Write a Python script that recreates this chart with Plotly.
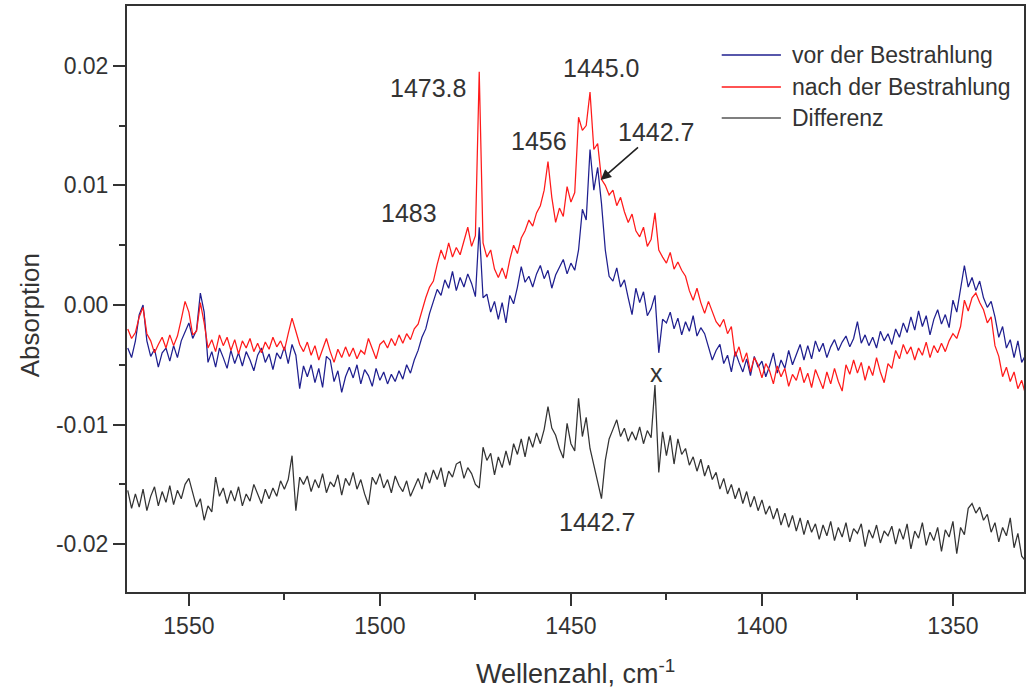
import plotly.graph_objects as go

# Wavenumber grid (cm^-1), 1 cm^-1 sampling, 1566 -> 1331
wavenumber = list(range(1566, 1330, -1))

# Absorbance values in units of 1e-3
vor_mabs = [
    -3.6, -4.4, -3.0, -0.8, 0.0, -3.0, -4.3, -3.7, -5.2, -4.0,
    -3.6, -4.7, -3.4, -4.4, -3.0, -2.2, -1.5, -2.8, -2.1, 1.0,
    -0.6, -4.8, -3.9, -5.2, -3.6, -4.4, -5.3, -3.8, -4.9, -4.0,
    -5.1, -3.9, -4.6, -5.5, -4.2, -3.6, -4.8, -4.1, -5.4, -4.0,
    -4.5, -3.5, -4.9, -3.3, -4.2, -7.0, -5.1, -6.0, -5.0, -6.5,
    -5.3, -6.9, -4.3, -4.6, -6.4, -5.5, -7.3, -6.0, -5.2, -6.1,
    -5.0, -6.6, -5.4, -5.9, -6.8, -5.3, -6.3, -5.6, -6.6, -5.8,
    -6.4, -5.5, -6.2, -5.0, -5.7, -4.6, -3.8, -2.7, -2.0, -0.7,
    0.3, 1.3, 0.8, 2.1, 1.4, 2.8, 1.2, 2.3, 1.5, 2.6,
    1.8, 0.7, 6.5, 0.6, 0.9, -0.6, 0.3, -1.2, 0.2, -1.5,
    0.8, 0.1, 1.5, 3.2, 1.9, 2.4, 1.5, 2.6, 3.3, 2.2,
    2.9, 1.4, 2.5, 3.1, 3.8, 2.6, 3.5, 2.9, 4.6, 8.0,
    7.1, 13.0, 9.6, 11.5, 8.5, 4.6, 2.4, 2.0, 3.1, 1.5,
    2.1, 0.6, -0.8, 1.4, 0.2, 1.1, -0.9, -0.3, 0.8, -4.0,
    -1.2, -1.5, -0.6, -2.0, -1.1, -2.5, -1.4, -2.2, -0.9, -2.6,
    -1.9, -2.4, -3.4, -4.6, -3.8, -3.3, -4.9, -4.2, -5.6, -3.9,
    -4.8, -5.6, -4.5, -5.9, -4.3, -5.2, -4.7, -6.0, -5.1, -4.0,
    -5.7, -4.6, -5.3, -3.8, -5.0, -4.2, -3.3, -4.6, -3.4, -4.5,
    -3.0, -3.9, -3.2, -4.4, -3.5, -2.9, -3.8, -3.1, -2.6, -3.5,
    -2.8, -1.4, -3.2, -2.5, -3.4, -2.7, -3.6, -2.2, -3.0, -2.4,
    -3.3, -2.0, -2.7, -1.5, -2.3, -1.0, -2.1, -0.5, -1.8, -0.9,
    -2.5, -1.2, -0.4, -1.6, -0.8, -1.9, 0.4, -0.6, 1.2, 3.3,
    1.5, 2.3, 1.2, 2.0, 0.6, -0.2, 0.3, -1.0, -2.7, -1.8,
    -3.6, -2.9, -4.4, -3.0, -4.8, -4.2,
]

nach_mabs = [
    -2.0, -2.8, -2.3, -1.0, -0.2, -2.4, -3.0, -4.0, -3.3, -2.7,
    -3.6, -2.5, -3.4, -2.6, -1.2, 0.3, -0.6, -2.5, -2.2, 0.2,
    -1.5, -3.6, -2.9, -3.9, -2.5, -3.4, -2.7, -3.8, -2.9, -4.1,
    -3.0, -3.6, -2.8, -3.9, -3.2, -4.0, -3.1, -3.7, -2.7, -3.5,
    -3.0, -3.8, -2.4, -1.1, -2.2, -3.3, -3.9, -3.1, -4.2, -3.4,
    -4.6, -3.6, -2.8, -3.9, -4.8, -3.7, -4.4, -3.5, -4.3, -3.6,
    -4.5, -3.8, -4.1, -2.8, -3.7, -4.5, -3.3, -3.0, -3.6, -2.8,
    -3.4, -2.5, -3.2, -2.4, -2.9, -2.0, -1.6, -0.4, 0.6, 1.5,
    2.0, 3.4, 4.6, 3.8, 5.2, 4.0, 4.8, 4.2, 5.3, 6.5,
    4.9, 5.8, 19.5, 5.2, 4.0, 4.6, 3.0, 2.3, 3.1, 2.2,
    3.8, 5.0, 4.3, 5.6, 6.2, 7.1, 6.6, 7.7, 8.3, 9.6,
    12.0, 9.0, 6.9, 8.1, 7.4, 9.9, 8.6, 9.4, 15.7, 14.6,
    15.0, 17.8, 13.0, 13.5, 10.5, 10.0, 9.2, 9.6, 8.3, 9.0,
    7.8, 6.9, 7.6, 6.2, 5.7, 6.5, 4.9, 5.5, 7.7, 4.6,
    4.0, 3.5, 4.4, 3.0, 3.6, 2.9, 2.4, 1.2, 0.4, 1.4,
    0.2, -0.7, 0.3, -0.6, -1.4, -1.8, -1.2, -2.4, -1.8, -4.3,
    -3.5, -4.8, -4.0, -5.6, -4.4, -5.0, -6.1, -4.9, -5.5, -6.6,
    -5.1, -6.0, -5.3, -6.8, -5.8, -6.3, -5.2, -6.5, -5.7, -6.9,
    -5.4, -6.2, -7.0, -5.6, -6.6, -5.3, -6.4, -7.2, -5.0, -5.8,
    -4.6, -5.7, -4.8, -6.3, -5.1, -5.9, -4.4, -5.6, -6.5, -4.9,
    -5.3, -3.8, -4.5, -3.3, -4.1, -3.5, -4.6, -3.6, -4.2, -3.1,
    -4.4, -3.4, -4.0, -3.2, -3.9, -3.0, -2.4, -2.8, -1.8, 0.4,
    -0.5, 0.6, 1.0, 0.2, -0.4, -1.5, -1.0, -3.4, -4.3, -6.0,
    -5.2, -6.4, -5.6, -7.0, -6.3, -7.5,
]

differenz_mabs = [
    -15.5, -17.0, -15.8, -16.9, -15.4, -17.2, -16.0, -15.2, -16.8, -15.6,
    -16.5, -15.1, -16.7, -15.5, -16.2, -15.0, -14.5, -15.8, -16.9, -16.2,
    -18.0, -16.8, -17.3, -14.4, -16.0, -15.3, -16.6, -15.5, -16.4, -15.2,
    -16.8, -15.8, -16.4, -15.0, -15.8, -16.6, -15.4, -16.2, -15.3, -16.0,
    -14.7, -15.4, -14.6, -12.6, -17.2, -14.4, -15.0, -14.3, -15.6, -14.6,
    -15.3, -14.1, -15.7, -14.8, -15.2, -14.2, -15.9, -14.5, -15.1, -14.0,
    -15.4, -14.6, -15.8, -16.7, -14.4, -15.0, -14.1, -15.3, -14.6, -15.7,
    -14.3, -15.1, -15.6, -14.7, -16.0, -15.2, -14.5, -15.4, -14.0, -14.9,
    -13.8, -14.6, -13.6, -15.2, -13.9, -14.4, -13.3, -13.1, -14.5, -13.6,
    -14.1, -15.0, -15.3, -11.9, -13.0, -12.4, -14.2, -12.7, -13.6, -12.2,
    -13.4, -11.6, -12.5, -11.2, -12.7, -11.0, -11.9, -10.7, -11.6, -10.4,
    -8.5, -10.3, -10.9, -12.0, -12.8, -9.9, -11.6, -12.2, -7.8, -11.0,
    -9.4, -12.0, -13.5, -15.0, -16.2, -13.0, -11.2, -10.4, -9.6, -11.0,
    -10.3, -11.4, -10.6, -11.3, -10.2, -11.6, -10.5, -11.1, -6.7, -14.0,
    -10.6, -12.6, -10.9, -13.3, -11.2, -12.5, -12.0, -13.4, -12.7, -13.9,
    -12.9, -14.3, -13.4, -14.6, -14.0, -15.4, -14.5, -15.8, -15.0, -16.2,
    -15.3, -16.6, -15.6, -16.9, -16.0, -17.2, -16.3, -17.5, -16.8, -17.9,
    -17.0, -18.4, -17.4, -18.6, -17.6, -18.9, -17.8, -19.2, -18.0, -19.0,
    -18.3, -19.6, -18.4, -19.3, -18.1, -19.7, -18.6, -19.4, -18.2, -19.8,
    -18.7, -19.1, -18.3, -20.2, -18.8, -19.5, -18.4, -19.9, -18.9, -19.3,
    -18.5, -20.0, -18.7, -19.6, -18.3, -20.4, -18.9, -19.5, -18.2, -20.1,
    -19.0, -19.7, -18.6, -20.6, -18.8, -19.4, -18.1, -20.8, -18.6, -19.2,
    -17.0, -16.6, -17.4, -16.9, -18.0, -17.5, -19.0, -18.2, -19.8, -18.6,
    -19.3, -17.8, -20.3, -19.1, -21.0, -21.4,
]

series_names = ["vor der Bestrahlung", "nach der Bestrahlung", "Differenz"]
x_ticks = [1550, 1500, 1450, 1400, 1350]
x_minor = [1525, 1475, 1425, 1375]
y_ticks = [-0.02, -0.01, 0.0, 0.01, 0.02]
y_ticktext = ["-0.02", "-0.01", "0.00", "0.01", "0.02"]
y_minor = [-0.015, -0.005, 0.005, 0.015]

# peak labels: (text, wavenumber, absorbance)
peak_labels = [
    ("1473.8", 1487.3, 0.01816),
    ("1445.0", 1442.2, 0.01983),
    ("1456", 1458.4, 0.01372),
    ("1483", 1492.3, 0.0077),
    ("x", 1427.5, -0.00569),
    ("1442.7", 1443.2, -0.01816),
]
# arrowed label: text position and the point the arrow points at
arrow_label = ("1442.7", 1427.8, 0.01448, 1442.2, 0.01046)

FONT = "Liberation Sans, Arial, Helvetica, sans-serif"
TXT = "#333333"
colors = ["#1f1f8f", "#ff1a1a", "#333333"]
legend_colors = ["#1f1f8f", "#ff1a1a", "#555555"]

def to_abs(arr):
    return [v / 1000.0 for v in arr]

fig = go.Figure()
for name, arr, col in zip(series_names, [vor_mabs, nach_mabs, differenz_mabs], colors):
    fig.add_trace(go.Scatter(
        x=wavenumber, y=to_abs(arr), mode="lines", name=name,
        line=dict(color=col, width=1.25), showlegend=False,
    ))

annotations = []
for text, xv, yv in peak_labels:
    annotations.append(dict(
        x=xv, y=yv, xref="x", yref="y", text=text, showarrow=False,
        font=dict(family=FONT, size=25, color=TXT),
        xanchor="center", yanchor="middle",
    ))
# label with arrow pointing to the 1442.7 shoulder
t, tx, ty, hx, hy = arrow_label
annotations.append(dict(
    x=hx, y=hy, ax=tx, ay=ty, xref="x", yref="y", axref="x", ayref="y",
    text=t, showarrow=True, arrowhead=2, arrowsize=1.3, arrowwidth=1.6,
    arrowcolor="#222222", font=dict(family=FONT, size=25, color=TXT),
))

# axis titles
annotations.append(dict(
    x=-0.1078, y=0.4727, xref="paper", yref="paper", text="Absorption",
    textangle=-90, showarrow=False, xanchor="center", yanchor="middle",
    font=dict(family=FONT, size=26, color=TXT),
))
annotations.append(dict(
    x=0.5, y=-0.1365, xref="paper", yref="paper",
    text="Wellenzahl, cm<sup>-1</sup>", showarrow=False,
    xanchor="center", yanchor="middle",
    font=dict(family=FONT, size=27, color=TXT),
))

# manual legend
shapes = []
legend_rows_y = [0.9164, 0.8618, 0.8089]
for name, col, ly in zip(series_names, legend_colors, legend_rows_y):
    shapes.append(dict(type="line", xref="paper", yref="paper",
                       x0=0.663, x1=0.729, y0=ly, y1=ly,
                       line=dict(color=col, width=1.5)))
    annotations.append(dict(
        x=0.739, y=ly, xref="paper", yref="paper", text=name,
        showarrow=False, xanchor="left", yanchor="middle",
        font=dict(family=FONT, size=23, color=TXT),
    ))

axis_common = dict(
    showgrid=False, zeroline=False, showline=True, linewidth=2,
    linecolor="#333333", mirror=True, ticks="outside", ticklen=12,
    tickwidth=2, tickcolor="#333333",
    tickfont=dict(family=FONT, size=23, color=TXT),
)

fig.update_layout(
    width=1030, height=696,
    margin=dict(l=127, r=4, t=6, b=104),
    paper_bgcolor="white", plot_bgcolor="white",
    font=dict(family=FONT, color=TXT),
    xaxis=dict(
        range=[1566.2, 1331.4], autorange=False,
        tickmode="array", tickvals=x_ticks,
        minor=dict(tickmode="array", tickvals=x_minor, ticks="outside",
                   ticklen=6, tickwidth=2, tickcolor="#333333"),
        **axis_common,
    ),
    yaxis=dict(
        range=[-0.0240, 0.0250], autorange=False,
        tickmode="array", tickvals=y_ticks, ticktext=y_ticktext,
        minor=dict(tickmode="array", tickvals=y_minor, ticks="outside",
                   ticklen=6, tickwidth=2, tickcolor="#333333"),
        **axis_common,
    ),
    annotations=annotations,
    shapes=shapes,
)

fig.write_html("out.html", config={"displayModeBar": False})
